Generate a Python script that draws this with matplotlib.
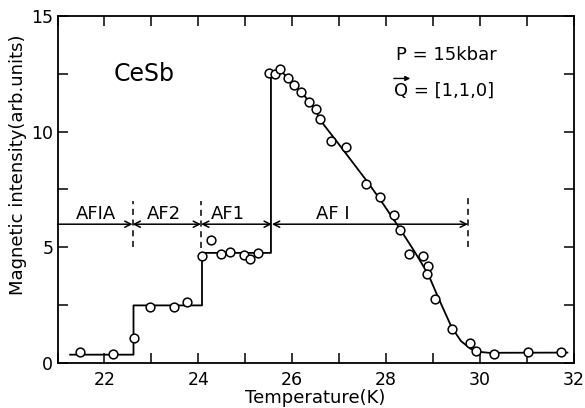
import matplotlib
matplotlib.use("Agg")
import matplotlib.pyplot as plt
from matplotlib.ticker import MultipleLocator

# Measured neutron intensity of the [1,1,0] reflection, CeSb at 15 kbar
temperature = [21.49, 22.19, 22.62, 22.98, 23.49, 23.77, 24.08, 24.27, 24.48,
               24.68, 24.97, 25.10, 25.28,
               25.50, 25.63, 25.75, 25.92, 26.04, 26.20, 26.36, 26.50, 26.59,
               26.84, 27.16, 27.58, 27.87, 28.18, 28.30, 28.50, 28.79, 28.89,
               28.88, 29.05, 29.40, 29.79, 29.92, 30.31, 31.02, 31.73]
intensity = [0.47, 0.41, 1.10, 2.40, 2.43, 2.64, 4.62, 5.32, 4.72,
             4.78, 4.69, 4.51, 4.75,
             12.52, 12.49, 12.73, 12.30, 12.02, 11.73, 11.30, 10.97, 10.54,
             9.61, 9.34, 7.73, 7.19, 6.41, 5.75, 4.72, 4.63, 4.18,
             3.86, 2.76, 1.46, 0.88, 0.54, 0.41, 0.48, 0.48]

# Guide to the eye: steps between phases, then the decay of the AF I signal
guide_T = [21.27, 22.62, 22.62, 24.08, 24.08, 25.55, 25.55, 25.75, 25.92,
           26.04, 26.20, 26.36, 26.50, 26.60, 27.00, 27.60, 27.90, 28.30,
           28.60, 28.90, 29.10, 29.40, 29.60, 29.80, 30.00, 30.20, 31.87]
guide_I = [0.36, 0.36, 2.49, 2.49, 4.76, 4.76, 12.40, 12.65, 12.30,
           12.02, 11.72, 11.30, 10.95, 10.50, 9.45, 7.85, 7.00, 5.80,
           4.85, 3.85, 2.90, 1.55, 0.95, 0.62, 0.48, 0.44, 0.45]

# Phase boundaries (K) and names
boundaries = [22.6, 24.06, 25.57, 29.75]
phase_names = ["AFIA", "AF2", "AF1", "AF I"]
phase_label_T = [21.82, 23.26, 24.63, 26.86]
phase_level = 6.0

fig = plt.figure(figsize=(5.85, 4.08), dpi=100)
ax = fig.add_axes([0.0983, 0.1103, 0.8821, 0.8505])

ax.plot(guide_T, guide_I, color="black", lw=1.3, zorder=2)
ax.plot(temperature, intensity, "o", ms=6.3, mfc="white", mec="black",
        mew=1.1, zorder=3)

# Phase arrows along y = 6
x_start = 21.0
edges = [x_start] + boundaries
for i in range(len(boundaries)):
    style = "->" if i == 0 else "<->"
    ax.annotate("", xy=(edges[i + 1], phase_level),
                xytext=(edges[i], phase_level),
                arrowprops=dict(arrowstyle=style, lw=1.1, color="black",
                                shrinkA=0, shrinkB=0, mutation_scale=11))

# Dashed boundary markers
for xb, (y0, y1) in zip([boundaries[0], boundaries[1], boundaries[3]],
                        [(5.0, 7.0), (4.95, 7.0), (5.0, 7.2)]):
    ax.plot([xb, xb], [y0, y1], color="black", lw=1.1, ls=(0, (4, 3)),
            zorder=2)

for name, xt in zip(phase_names, phase_label_T):
    ax.text(xt, 6.45, name, ha="center", va="center", fontsize=13)

ax.text(22.85, 12.5, "CeSb", ha="center", va="center", fontsize=17)
ax.text(28.22, 13.3, "P = 15kbar", ha="left", va="center", fontsize=13)
ax.text(28.17, 11.75, "Q = [1,1,0]", ha="left", va="center", fontsize=13)
# vector arrow over Q
ax.annotate("", xy=(28.52, 12.3), xytext=(28.17, 12.3),
            arrowprops=dict(arrowstyle="-|>", lw=1.0, color="black",
                            shrinkA=0, shrinkB=0, mutation_scale=7))

ax.set_xlim(21, 32)
ax.set_ylim(0, 15)
ax.xaxis.set_major_locator(MultipleLocator(2))
ax.xaxis.set_minor_locator(MultipleLocator(1))
ax.yaxis.set_major_locator(MultipleLocator(5))
ax.yaxis.set_minor_locator(MultipleLocator(2.5))
ax.tick_params(which="both", direction="in", top=True, right=True,
               labelsize=12.5, width=1.1)
ax.tick_params(which="major", length=7)
ax.tick_params(which="minor", length=7)
ax.tick_params(axis="x", pad=6)
ax.tick_params(axis="y", pad=3)
for sp in ax.spines.values():
    sp.set_linewidth(1.3)

ax.set_xlabel("Temperature(K)", fontsize=13)
ax.set_ylabel("Magnetic intensity(arb.units)", fontsize=13)
ax.xaxis.set_label_coords(0.5, -0.075)
ax.yaxis.set_label_coords(-0.06, 0.57)

fig.savefig("out.png", dpi=100)
